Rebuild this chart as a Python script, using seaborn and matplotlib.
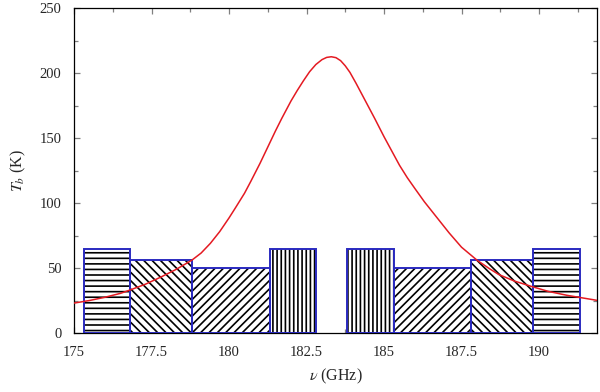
import numpy as np
import pandas as pd
import matplotlib
matplotlib.use("Agg")
import matplotlib.pyplot as plt
import seaborn as sns
from matplotlib.ticker import MultipleLocator

# channel bands (GHz) and brightness temperature of each band
band_left = [175.31, 176.81, 178.81, 181.31, 183.81, 185.31, 187.81, 189.81]
band_right = [176.81, 178.81, 181.31, 182.81, 185.31, 187.81, 189.81, 191.31]
band_tb = [65, 56, 50, 65, 65, 50, 56, 65]
band_hatch = ["---", "\\\\\\\\", "////", "||||", "||||", "////", "\\\\\\\\", "---"]

# water line profile
freq = [175.0, 175.5, 176.0, 176.5, 176.8, 177.3, 177.8, 178.3, 178.8, 179.1,
        179.4, 179.7, 180.0, 180.2, 180.5, 180.7, 181.0, 181.2, 181.5, 181.7,
        182.0, 182.2, 182.4, 182.6, 182.8, 183.0, 183.15, 183.3, 183.45, 183.6,
        183.75, 183.9, 184.1, 184.3, 184.5, 184.7, 185.0, 185.25, 185.5, 185.75,
        186.0, 186.3, 186.6, 186.85, 187.1, 187.5, 188.0, 188.4, 188.7, 189.2,
        189.8, 190.3, 190.9, 191.4, 191.9]
tb = [23, 25, 27.5, 30.5, 33, 37.5, 43, 49, 56, 61.5,
      69, 78, 88.5, 96, 107.5, 116.5, 130.5, 140.5, 155.5, 165,
      178.5, 186.5, 194, 201, 206.5, 210.3, 212, 212.5, 211.8, 209.5,
      205.5, 200.5, 192, 183, 174, 165, 151, 140, 129, 119.5,
      111, 101, 92, 84.5, 77, 66, 56, 49.5, 45, 40,
      35.5, 32, 29, 27, 25]
curve = pd.DataFrame({"freq": freq, "tb": tb})

sns.set_style("ticks")
plt.rcParams["font.family"] = ["Liberation Serif", "DejaVu Serif"]
plt.rcParams["mathtext.fontset"] = "stix"
plt.rcParams["hatch.linewidth"] = 1.2

fig = plt.figure(figsize=(6, 3.92), dpi=100)
ax = fig.add_axes([74/600, 1-333/392, 523/600, 325/392])

widths = np.array(band_right) - np.array(band_left)
# hatched fill (black hatch), then blue outline on top
for l, w, h, ht in zip(band_left, widths, band_tb, band_hatch):
    ax.bar(l, h, width=w, align="edge", facecolor="white", edgecolor="black",
           linewidth=0, hatch=ht, zorder=2)
    ax.bar(l, h, width=w, align="edge", fill=False, edgecolor="#2a2ac0",
           linewidth=1.4, zorder=3)

sns.lineplot(data=curve, x="freq", y="tb", color="#e41a22", linewidth=1.1,
             ax=ax, zorder=4)

ax.set_xlim(175, 191.87)
ax.set_ylim(0, 250)
ax.xaxis.set_minor_locator(MultipleLocator(1.25))
ax.yaxis.set_major_locator(MultipleLocator(50))
ax.yaxis.set_minor_locator(MultipleLocator(25))
ax.set_xticks([175, 177.5, 180, 182.5, 185, 187.5, 190])
ax.set_xticklabels(["175", "177.5", "180", "182.5", "185", "187.5", "190"])
ax.tick_params(which="both", direction="in", top=True, right=True,
               color="gray", labelsize=10.5, pad=9)
ax.tick_params(which="major", length=4, width=0.9)
ax.tick_params(which="minor", length=3, width=0.9)
for s in ax.spines.values():
    s.set_linewidth(0.9)
    s.set_color("black")

ax.set_xlabel(r"$\nu$ (GHz)", fontsize=11.5, labelpad=6)
ax.set_ylabel(r"$T_b$ (K)", fontsize=11.5, labelpad=8)

fig.savefig("out.png", dpi=100)
